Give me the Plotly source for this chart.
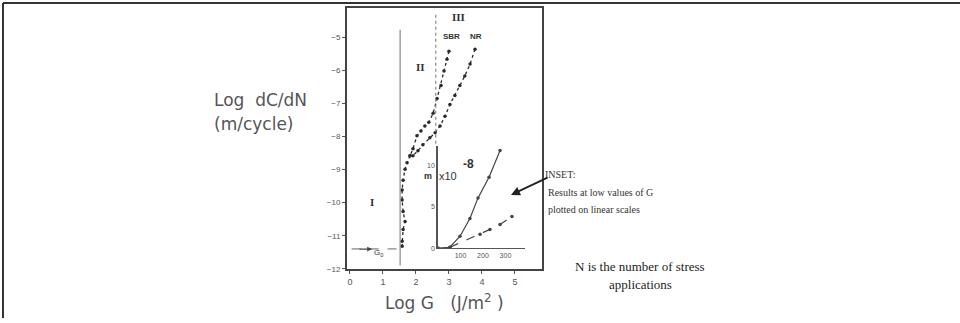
import plotly.graph_objects as go

W, H = 960, 323

# ---- data ----
sbr_logG = [3.0, 2.94, 2.85, 2.76, 2.64, 2.52, 2.39, 2.27, 2.15, 2.03, 1.91, 1.82]
sbr_logr = [-5.42, -5.66, -6.02, -6.46, -6.85, -7.30, -7.57, -7.68, -7.83, -7.98, -8.37, -8.58]
nr_logG = [3.79, 3.64, 3.48, 3.33, 3.18, 3.03, 2.88, 2.73, 2.58, 2.42, 2.21, 2.06, 1.91]
nr_logr = [-5.36, -5.81, -6.17, -6.46, -6.76, -7.03, -7.39, -7.68, -7.89, -8.04, -8.25, -8.43, -8.58]
low_logG = [1.82, 1.73, 1.67, 1.61, 1.58, 1.58, 1.61, 1.67, 1.61, 1.58, 1.58]
low_logr = [-8.58, -8.79, -8.99, -9.32, -9.62, -9.92, -10.27, -10.57, -10.81, -11.17, -11.32]
g0_line_logG = [0.05, 1.55]
g0_line_logr = [-11.4, -11.4]

inset_steep_G = [0, 53, 98, 142, 178, 227, 276]
inset_steep_r = [0, 0.1, 1.43, 3.57, 6.07, 8.57, 11.8]
inset_low_G = [53, 187, 231, 276, 329]
inset_low_r = [0.1, 1.67, 2.26, 2.86, 3.81]

main_xticks = [0, 1, 2, 3, 4, 5]
main_yticks = [-5, -6, -7, -8, -9, -10, -11, -12]
inset_xticks = [100, 200, 300]
inset_yticks = [0, 5, 10]

vline_solid = 1.52
vline_dotted = 2.6


def px(x):
    return x / W


def py(y):
    return 1 - y / H


fig = go.Figure()
dark = "#2a2a2a"

for gx, gy in [(sbr_logG, sbr_logr), (nr_logG, nr_logr), (low_logG, low_logr)]:
    fig.add_trace(go.Scatter(x=gx, y=gy, mode="lines+markers",
                             line=dict(color=dark, width=1.3, dash="dot"),
                             marker=dict(size=3.5, color=dark),
                             xaxis="x", yaxis="y", showlegend=False))
fig.add_trace(go.Scatter(x=g0_line_logG, y=g0_line_logr, mode="lines",
                         line=dict(color="#666", width=1, dash="dash"),
                         xaxis="x", yaxis="y", showlegend=False))
fig.add_trace(go.Scatter(x=inset_steep_G, y=inset_steep_r, mode="lines+markers",
                         line=dict(color="#444", width=1.2), marker=dict(size=3.5, color="#444"),
                         xaxis="x2", yaxis="y2", showlegend=False))
fig.add_trace(go.Scatter(x=inset_low_G, y=inset_low_r, mode="lines+markers",
                         line=dict(color="#444", width=1.2, dash="dash"), marker=dict(size=3.5, color="#444"),
                         xaxis="x2", yaxis="y2", showlegend=False))

# vertical reference lines
fig.add_shape(type="line", xref="x", yref="y", x0=vline_solid, x1=vline_solid, y0=-4.77, y1=-11.9,
              line=dict(color="#888", width=1.2))
fig.add_shape(type="line", xref="x", yref="y", x0=vline_dotted, x1=vline_dotted, y0=-4.32, y1=-8.3,
              line=dict(color="#888", width=1.2, dash="dot"))

tickfont = dict(family="Liberation Sans", size=8, color="#555")
fig.update_layout(
    width=W, height=H, margin=dict(l=0, r=0, t=0, b=0),
    paper_bgcolor="white", plot_bgcolor="white",
    xaxis=dict(domain=[px(347), px(542)], range=[-0.09, 5.82], tickvals=main_xticks,
               showgrid=False, zeroline=False, showline=True, mirror=True, linecolor="#444", linewidth=2,
               ticks="outside", ticklen=3, tickcolor="#555",
               tickfont=dict(family="Liberation Sans", size=9, color="#555")),
    yaxis=dict(domain=[py(273), py(8)], range=[-12, -4.11], tickvals=main_yticks,
               showgrid=False, zeroline=False, showline=True, mirror=True, linecolor="#444", linewidth=2,
               ticks="outside", ticklen=3, tickcolor="#555", tickfont=tickfont),
    xaxis2=dict(domain=[px(438), px(525)], range=[0, 387], anchor="y2", tickvals=inset_xticks,
                showgrid=False, zeroline=False, showline=True, linecolor="#555", linewidth=1.2,
                ticks="", tickfont=dict(family="Liberation Sans", size=7, color="#555")),
    yaxis2=dict(domain=[py(252), py(148)], range=[0, 12.38], anchor="x2", tickvals=inset_yticks,
                showgrid=False, zeroline=False, showline=True, linecolor="#555", linewidth=1.5,
                ticks="", tickfont=dict(family="Liberation Sans", size=7, color="#555")),
)

# outer frame (top and left edges)
fig.add_shape(type="line", xref="paper", yref="paper", x0=px(3), x1=1, y0=py(3), y1=py(3),
              line=dict(color="#333", width=2))
fig.add_shape(type="line", xref="paper", yref="paper", x0=px(3), x1=px(3), y0=py(3), y1=0,
              line=dict(color="#333", width=2))


def txt(x, y, s, size=12, family="DejaVu Sans", color="#555", xanchor="center", bold=False):
    if bold:
        s = "<b>" + s + "</b>"
    fig.add_annotation(x=px(x), y=py(y), xref="paper", yref="paper", text=s, showarrow=False,
                       font=dict(family=family, size=size, color=color), xanchor=xanchor, yanchor="middle")


serif = "Liberation Serif"
txt(212, 102, "Log  dC/dN", size=17, xanchor="left")
txt(212, 126, "(m/cycle)", size=17, xanchor="left")
txt(444, 307, "Log G   (J/m<sup>2</sup> )", size=17)

txt(458, 17, "III", size=11, family=serif, color="#333", bold=True)
txt(451, 37, "SBR", size=8, family="Liberation Sans", color="#333", bold=True)
txt(476, 37, "NR", size=8, family="Liberation Sans", color="#333", bold=True)
txt(420, 68, "II", size=11, family=serif, color="#333", bold=True)
txt(372, 205, "I", size=11, family=serif, color="#333", bold=True)
txt(378, 257, "G<sub>0</sub>", size=8, family="Liberation Sans", color="#333")
txt(428, 179, "m", size=9, family="Liberation Sans", color="#333", bold=True)
txt(448, 179, "x10", size=11, family="Liberation Sans", color="#333")
txt(468, 167, "-8", size=12, family="Liberation Sans", color="#333", bold=True)

txt(543, 177, "INSET:", size=10, family=serif, color="#333", xanchor="left")
txt(546, 196, "Results at low values of G", size=10, family=serif, color="#333", xanchor="left")
txt(546, 213, "plotted on linear scales", size=10, family=serif, color="#333", xanchor="left")
txt(640, 271, "N is the number of stress", size=13, family=serif, color="#222")
txt(640, 289, "applications", size=13, family=serif, color="#222")

# arrows (offsets in pixels)
fig.add_annotation(x=px(511), y=py(198), xref="paper", yref="paper", ax=38, ay=-18,
                   axref="pixel", ayref="pixel", text="", showarrow=True, arrowhead=2,
                   arrowsize=1, arrowwidth=1.8, arrowcolor="#222")
fig.add_annotation(x=px(372), y=py(253), xref="paper", yref="paper", ax=-14, ay=0,
                   axref="pixel", ayref="pixel", text="", showarrow=True, arrowhead=2,
                   arrowsize=0.8, arrowwidth=1.2, arrowcolor="#444")

fig.write_html("out.html", config={"displayModeBar": False},
               post_script="document.body.style.margin='0px';")
